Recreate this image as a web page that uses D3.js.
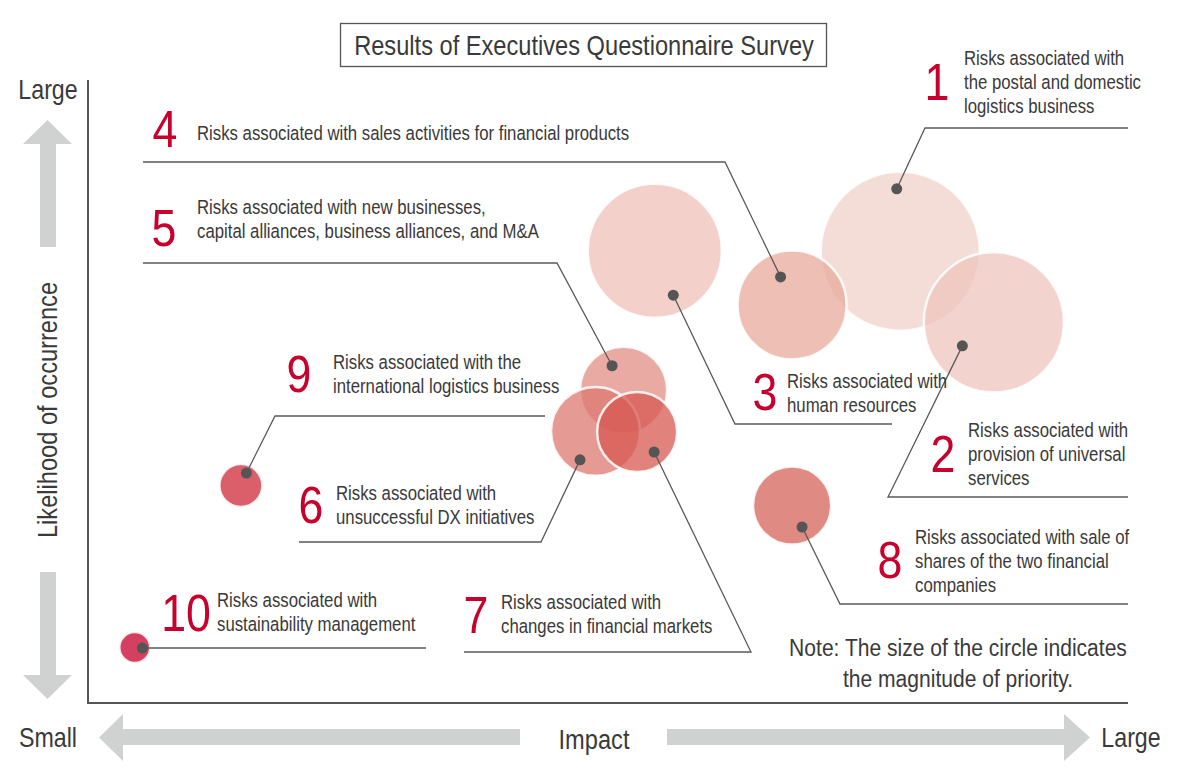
<!DOCTYPE html>
<html>
<head>
<meta charset="utf-8">
<script src="https://cdn.jsdelivr.net/npm/d3@7"></script>
<style>
  html, body { margin: 0; padding: 0; background: #fff; }
  svg { display: block; }
  text { font-family: 'Liberation Sans', Arial, sans-serif; }
</style>
</head>
<body>
<svg id="chart" width="1180" height="782"></svg>
<script>
// ---------------- DATA ----------------
const RISK_IDS = ["1", "2", "3", "4", "5", "6", "7", "8", "9", "10"];
const RISK_LABELS = [
  ["Risks associated with", "the postal and domestic", "logistics business"],
  ["Risks associated with", "provision of universal", "services"],
  ["Risks associated with", "human resources"],
  ["Risks associated with sales activities for financial products"],
  ["Risks associated with new businesses,", "capital alliances, business alliances, and M&A"],
  ["Risks associated with", "unsuccessful DX initiatives"],
  ["Risks associated with", "changes in financial markets"],
  ["Risks associated with sale of", "shares of the two financial", "companies"],
  ["Risks associated with the", "international logistics business"],
  ["Risks associated with", "sustainability management"]
];
const IMPACT     = [78.1, 87.1, 54.5, 67.7, 51.5, 48.8, 52.8, 67.7, 14.7, 4.5];
const LIKELIHOOD = [72.5, 61.1, 72.6, 63.9, 50.2, 43.6, 43.5, 31.7, 34.9, 8.9];
const PRIORITY   = [98.8, 76.6, 70.1, 46.4, 29.6, 30.9, 25.0, 23.8, 7.2, 3.75];

const TITLE = "Results of Executives Questionnaire Survey";
const Y_AXIS_TITLE = "Likelihood of occurrence";
const X_AXIS_TITLE = "Impact";
const AXIS_ENDS = ["Small", "Large"];
const NOTE_LINES = ["Note: The size of the circle indicates", "the magnitude of priority."];

// ---------------- STYLE / LAYOUT ----------------
const PALETTE = ["#f5ddd7", "#f2d3cd", "#f3d0c9", "#eebfb5", "#e8aaa3",
                 "#e69a94", "#e1827d", "#e08a84", "#db5f6b", "#d64060"];
const FILL_OPACITY = 0.75;
const RED = "#c8002d";
const TEXT = "#3a3a3a";
const LINE = "#5a5a5a";
const ARROW = "#d0d2d1";
const SX = 0.86; // horizontal condensing of the typeface

// label layout (pixels): number anchor, text x, baselines, leader
const LAYOUT = [
  { nx: 937, ny: 100, tx: 964, ty: [65, 89, 113], ly: 128, lx1: 925, lx2: 1128, elbow: 925, ddx: -3.5, ddy: -62.5 },
  { nx: 943, ny: 472, tx: 968, ty: [437, 461, 485], ly: 497, lx1: 888, lx2: 1128, elbow: 888, ddx: -31.5, ddy: 23.5 },
  { nx: 765, ny: 410, tx: 787, ty: [388, 412], ly: 424, lx1: 735, lx2: 892, elbow: 735, ddx: 18.5, ddy: 44.5 },
  { nx: 165, ny: 147, tx: 197, ty: [140], ly: 162, lx1: 143, lx2: 725, elbow: 725, ddx: -11.5, ddy: -28 },
  { nx: 164, ny: 246, tx: 197, ty: [214, 238], ly: 263, lx1: 143, lx2: 557, elbow: 557, ddx: -11.5, ddy: -24.5 },
  { nx: 311, ny: 523, tx: 336, ty: [500, 524], ly: 542, lx1: 299, lx2: 541, elbow: 541, ddx: -15.5, ddy: 28.5 },
  { nx: 476, ny: 633, tx: 501, ty: [609, 633], ly: 652, lx1: 464, lx2: 751, elbow: 751, ddx: 17, ddy: 20 },
  { nx: 890, ny: 578, tx: 915, ty: [544, 568, 592], ly: 604, lx1: 840, lx2: 1128, elbow: 840, ddx: 10, ddy: 21.5 },
  { nx: 299, ny: 392, tx: 333, ty: [369, 393], ly: 416, lx1: 275, lx2: 545, elbow: 275, ddx: 5.5, ddy: -12.5 },
  { nx: 186, ny: 631, tx: 217, ty: [607, 631], ly: 648, lx1: null, lx2: 426, elbow: null, ddx: 7.5, ddy: 0.5 }
];

const plot = { left: 88, right: 1128, top: 80, bottom: 703 };

// ---------------- SCALES ----------------
const x = d3.scaleLinear().domain([0, 100]).range([plot.left, plot.right]);
const y = d3.scaleLinear().domain([0, 100]).range([plot.bottom, plot.top]);
const r = d3.scaleSqrt().domain([0, 100]).range([0, 80]);
const color = d3.scaleOrdinal().domain(RISK_IDS).range(PALETTE.map(c => {
  const o = d3.rgb(c);
  const f = v => Math.max(0, Math.min(255, 255 - (255 - v) / FILL_OPACITY));
  return d3.rgb(f(o.r), f(o.g), f(o.b)).formatHex();
}));

const risks = RISK_IDS.map((id, i) => ({
  id, label: RISK_LABELS[i], impact: IMPACT[i], likelihood: LIKELIHOOD[i], priority: PRIORITY[i], lay: LAYOUT[i]
}));

const svg = d3.select("#chart");

function ctext(parent, px, py, str, size, anchor, fill, rot) {
  return parent.append("text")
    .attr("transform", `translate(${px},${py})${rot ? ` rotate(${rot})` : ""} scale(${SX},1)`)
    .attr("text-anchor", anchor || "start")
    .attr("font-size", size).attr("fill", fill || TEXT).text(str);
}

// ---------------- TITLE ----------------
svg.append("rect")
  .attr("x", 340.5).attr("y", 23.5).attr("width", 486).attr("height", 43)
  .attr("fill", "none").attr("stroke", "#555").attr("stroke-width", 1.3);
ctext(svg, 584, 55, TITLE, 27.5, "middle");

// ---------------- ARROWS ----------------
const arrows = svg.append("g").attr("fill", ARROW);
arrows.append("path").attr("d", "M40,247 L40,144 L23,144 L47.5,120 L72,144 L56,144 L56,247 Z");
arrows.append("path").attr("d", "M40,572 L40,675 L23,675 L47.5,699 L72,675 L56,675 L56,572 Z");
arrows.append("path").attr("d", "M520,729 L123,729 L123,714 L99,737.5 L123,761 L123,745 L520,745 Z");
arrows.append("path").attr("d", "M667,729 L1064,729 L1064,714 L1090,737.5 L1064,761 L1064,745 L667,745 Z");

// ---------------- AXES ----------------
svg.append("path")
  .attr("d", `M${plot.left},${plot.top} L${plot.left},${plot.bottom} L${plot.right},${plot.bottom}`)
  .attr("fill", "none").attr("stroke", "#555").attr("stroke-width", 2);

ctext(svg, 48, 99, AXIS_ENDS[1], 27, "middle");
ctext(svg, 48, 747, AXIS_ENDS[0], 27, "middle");
ctext(svg, 1131, 747, AXIS_ENDS[1], 27, "middle");
ctext(svg, 594, 749, X_AXIS_TITLE, 27.5, "middle");
ctext(svg, 57, 410, Y_AXIS_TITLE, 27.5, "middle", TEXT, -90);

// ---------------- BUBBLES ----------------
svg.append("g").selectAll("circle").data(risks).join("circle")
  .attr("cx", d => x(d.impact)).attr("cy", d => y(d.likelihood)).attr("r", d => r(d.priority))
  .attr("fill", d => color(d.id)).attr("fill-opacity", FILL_OPACITY)
  .attr("stroke", "#fff").attr("stroke-opacity", 0.85).attr("stroke-width", 2.5);

// ---------------- LEADERS ----------------
const leaders = svg.append("g").attr("fill", "none").attr("stroke", LINE).attr("stroke-width", 1.3);
risks.forEach(d => {
  const L = d.lay;
  const dx = x(d.impact) + L.ddx, dy = y(d.likelihood) + L.ddy;
  let pts;
  if (L.elbow === null) {
    pts = [[dx, L.ly], [L.lx2, L.ly]];
  } else if (L.elbow === L.lx1) {
    pts = [[dx, dy], [L.lx1, L.ly], [L.lx2, L.ly]];
  } else {
    pts = [[L.lx1, L.ly], [L.lx2, L.ly], [dx, dy]];
  }
  leaders.append("path").attr("d", d3.line()(pts));
});

// ---------------- DOTS ----------------
svg.append("g").selectAll("circle").data(risks).join("circle")
  .attr("cx", d => x(d.impact) + d.lay.ddx).attr("cy", d => y(d.likelihood) + d.lay.ddy)
  .attr("r", 5.5).attr("fill", "#555");

// ---------------- LABELS ----------------
const lab = svg.append("g");
risks.forEach(d => {
  const L = d.lay;
  ctext(lab, L.nx, L.ny, d.id, 52, "middle", RED);
  d.label.forEach((line, j) => ctext(lab, L.tx, L.ty[j], line, 19.5, "start"));
});

// ---------------- NOTE ----------------
NOTE_LINES.forEach((t, i) => ctext(svg, 958, 656 + i * 31, t, 24.5, "middle"));
</script>
</body>
</html>
